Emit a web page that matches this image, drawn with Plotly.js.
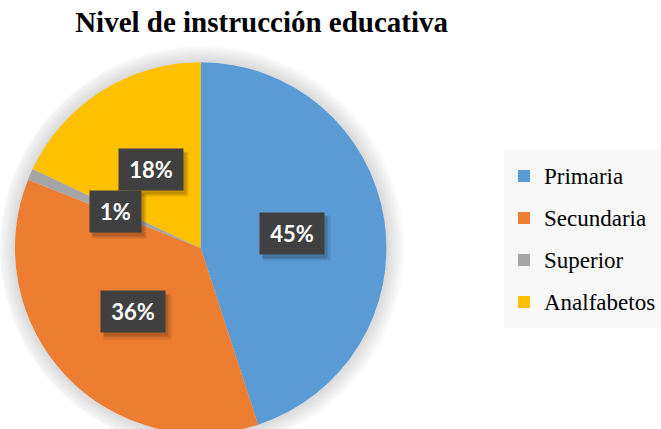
<!DOCTYPE html>
<html>
<head>
<meta charset="utf-8">
<script src="https://cdn.plot.ly/plotly-3.0.1.min.js"></script>
<style>
html, body { margin:0; padding:0; width:661px; height:429px; overflow:hidden; background:#fff; }
#wrap { width:661px; height:429px; overflow:hidden; }
</style>
</head>
<body>
<div id="wrap"><div id="chart"></div></div>
<script>
// ---- data ----
const categories = ["Primaria", "Secundaria", "Superior", "Analfabetos"];
const values = [45, 36, 1, 18];
const pctLabels = ["45%", "36%", "1%", "18%"];
const colors = ["#5B9BD5", "#ED7D31", "#A5A5A5", "#FFC000"];
const chartTitle = "Nivel de instrucción educativa";

// ---- geometry (style) ----
const W = 661, H = 460;
const cx = 201, cy = 248, R = 186;   // pixels from top-left
function dom(r) {
  return { x: [(cx - r) / W, (cx + r) / W], y: [1 - (cy + r) / H, 1 - (cy - r) / H] };
}

const traces = [];
// soft shadow: stacked translucent discs
for (let k = 9; k >= 1; k--) {
  traces.push({
    type: "pie", values: [1], labels: ["s" + k], sort: false,
    marker: { colors: ["rgba(0,0,0,0.016)"], line: { width: 0 } },
    textinfo: "none", hoverinfo: "skip", showlegend: false,
    domain: dom(R + 2 * k)
  });
}
traces.push({
  type: "pie",
  values: values,
  labels: categories.map(c => '<span style="font-size:23px;baseline-shift:4px">' + c + '</span>'),
  sort: false, direction: "clockwise", rotation: 0,
  marker: { colors: colors, line: { width: 0 } },
  textinfo: "none", hoverinfo: "label+percent",
  domain: dom(R)
});

// label boxes, positioned from the slice mid-angles
const total = values.reduce((a, b) => a + b, 0);
const cvs = document.createElement("canvas").getContext("2d");
cvs.font = "bold 22px Lato";
const shadows = [], boxes = [];
let cum = 0;
values.forEach((v, i) => {
  const mid = (cum + v / 2) / total * 2 * Math.PI;
  cum += v;
  const px = cx + 0.5 * R * Math.sin(mid);
  const py = cy - 0.5 * R * Math.cos(mid);
  const xp = px / W, yp = 1 - py / H;
  const w = Math.round(cvs.measureText(pctLabels[i]).width + 20);
  const base = { xref: "paper", yref: "paper", x: xp, y: yp, xanchor: "center", yanchor: "middle",
                 showarrow: false, width: w, height: 41, borderpad: 0, valign: "middle", align: "center" };
  shadows.push(Object.assign({}, base, { text: " ", bgcolor: "rgba(0,0,0,0.10)", xshift: 4, yshift: -5, width: w + 3, height: 44 }));
  shadows.push(Object.assign({}, base, { text: " ", bgcolor: "rgba(0,0,0,0.16)", xshift: 3, yshift: -4 }));
  boxes.push(Object.assign({}, base, { text: pctLabels[i], bgcolor: "#404040",
    font: { family: "Lato", size: 22, color: "#ffffff", weight: "bold" } }));
});

const layout = {
  width: W, height: H,
  margin: { l: 0, r: 0, t: 0, b: 0 },
  paper_bgcolor: "#ffffff",
  title: { text: chartTitle, x: 262 / W, xanchor: "center", xref: "paper",
           y: 1 - 21.5 / H, yanchor: "middle", yref: "container",
           font: { family: "Liberation Serif", size: 29, color: "#000000", weight: "bold" } },
  showlegend: true,
  legend: { x: 505 / W, xanchor: "left", y: 1 - 150 / H, yanchor: "top",
            bgcolor: "#F8F8F8", borderwidth: 0,
            font: { family: "Liberation Serif", size: 30, color: "#000000" } },
  annotations: shadows.concat(boxes)
};

Plotly.newPlot("chart", traces, layout, { displayModeBar: false, staticPlot: true });
</script>
</body>
</html>
